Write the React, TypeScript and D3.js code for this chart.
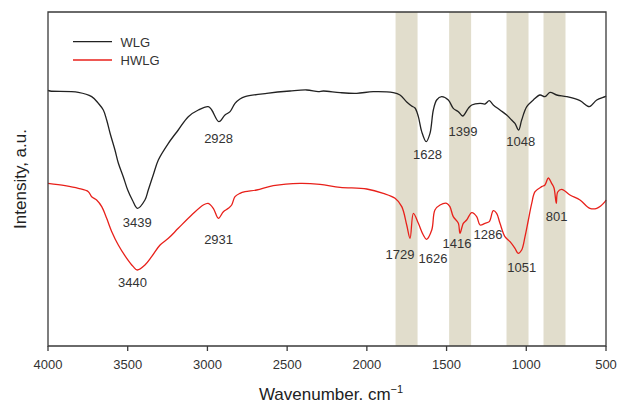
import React from 'react';
import * as d3 from 'd3';

// WLG spectrum: [wavenumber, intensity a.u.]
const wlg: [number, number][] = [
  [4000, 76.7], [3987, 76.5], [3810, 76.1], [3726, 74.8], [3684, 72.8], [3653, 70.8],
  [3632, 67.8], [3611, 63.9], [3580, 58.8], [3559, 54.9], [3528, 50.8], [3500, 46.8],
  [3471, 43.8], [3439, 41.3], [3392, 43.8], [3371, 46.8], [3340, 51.3], [3308, 55.8],
  [3245, 60.8], [3183, 64.8], [3120, 68.8], [3057, 70.8], [2995, 71.8], [2973, 70.8],
  [2928, 67.3], [2890, 69.3], [2858, 70.3], [2827, 72.8], [2796, 74.1], [2764, 74.8],
  [2628, 75.8], [2482, 76.5], [2377, 76.8], [2305, 76.3], [2273, 76.5], [2168, 76.0],
  [2064, 75.8], [1960, 76.3], [1834, 76.0], [1792, 75.3], [1750, 73.2], [1719, 72.0],
  [1698, 71.4], [1677, 68.8], [1656, 64.3], [1628, 61.3], [1604, 63.8], [1583, 70.8],
  [1562, 73.8], [1531, 74.8], [1489, 73.8], [1458, 71.3], [1426, 70.3], [1399, 69.0],
  [1364, 71.3], [1342, 72.3], [1290, 72.8], [1259, 72.6], [1232, 73.6], [1207, 72.3],
  [1165, 70.8], [1123, 69.3], [1092, 67.8], [1071, 66.8], [1048, 64.8], [1029, 67.8],
  [997, 71.8], [956, 73.8], [914, 75.3], [883, 74.8], [851, 76.1], [809, 75.3],
  [747, 74.8], [663, 73.6], [605, 71.8], [558, 73.8], [506, 74.8], [500, 75.0],
];

// HWLG spectrum
const hwlg: [number, number][] = [
  [4000, 48.8], [3893, 48.1], [3810, 47.3], [3747, 46.3], [3726, 44.8], [3695, 43.8],
  [3663, 41.8], [3632, 38.3], [3600, 34.3], [3559, 30.3], [3506, 26.3], [3465, 23.8],
  [3440, 22.8], [3392, 24.3], [3350, 26.8], [3297, 30.3], [3245, 32.3], [3183, 35.3],
  [3099, 39.3], [3026, 42.3], [2995, 42.8], [2963, 41.3], [2931, 38.3], [2900, 40.3],
  [2869, 41.3], [2848, 42.3], [2827, 44.8], [2796, 45.8], [2764, 46.3], [2691, 46.8],
  [2587, 48.1], [2419, 48.8], [2294, 48.5], [2168, 47.6], [2001, 47.1], [1897, 45.8],
  [1823, 44.3], [1781, 41.8], [1750, 36.3], [1729, 32.3], [1708, 39.8], [1677, 36.8],
  [1646, 33.3], [1626, 32.0], [1593, 34.8], [1573, 40.8], [1541, 42.3], [1499, 42.8],
  [1479, 41.8], [1458, 38.8], [1426, 36.8], [1416, 33.8], [1395, 36.8], [1374, 37.8],
  [1342, 40.0], [1311, 38.8], [1290, 36.3], [1259, 36.8], [1232, 37.3], [1207, 40.6],
  [1186, 39.8], [1165, 36.8], [1134, 32.8], [1102, 31.3], [1071, 29.3], [1051, 27.8],
  [1029, 28.8], [1008, 32.8], [987, 37.8], [966, 42.8], [945, 46.3], [903, 47.8],
  [883, 48.3], [862, 50.4], [841, 48.8], [826, 47.4], [812, 42.8], [803, 46.2],
  [778, 47.0], [726, 45.3], [663, 43.8], [601, 41.3], [558, 41.3], [506, 43.3], [500, 43.8],
];

// highlighted regions [from, to] in cm-1
const bands: [number, number][] = [[1820, 1682], [1484, 1346], [1124, 986], [892, 754]];

// peak labels: [text, wavenumber position, intensity position of baseline]
const wlgPeaks: [string, number, number][] = [
  ['3439', 3440, 35.6], ['2928', 2930, 60.8], ['1628', 1620, 56.1], ['1399', 1397, 63.1], ['1048', 1035, 60.1],
];
const hwlgPeaks: [string, number, number][] = [
  ['3440', 3470, 17.8], ['2931', 2930, 30.6], ['1729', 1792, 26.0], ['1626', 1585, 24.9],
  ['1416', 1435, 29.3], ['1286', 1240, 32.0], ['1051', 1029, 22.2], ['801', 810, 37.6],
];

const xTicks = [4000, 3500, 3000, 2500, 2000, 1500, 1000, 500];

const W = 619;
const H = 406;
const margin = { top: 12, right: 13, bottom: 60, left: 48 };
const font = '"Liberation Sans", Arial, sans-serif';
const axisColor = '#3a3a3a';
const textColor = '#333';

export default function App() {
  const x = d3.scaleLinear().domain([4000, 500]).range([margin.left, W - margin.right]);
  const y = d3.scaleLinear().domain([0, 100.2]).range([H - margin.bottom, margin.top]);
  const line = d3.line<[number, number]>()
    .x(d => x(d[0]))
    .y(d => y(d[1]))
    .curve(d3.curveCatmullRom.alpha(0.5));

  const x0 = margin.left;
  const x1 = W - margin.right;
  const y0 = H - margin.bottom;
  const y1 = margin.top;

  return (
    <svg width={W} height={H} style={{ position: 'absolute', left: 0, top: 0 }} fontFamily={font}>
      <rect x={0} y={0} width={W} height={H} fill="#fff" />
      {bands.map((b, i) => (
        <rect key={i} x={x(b[0])} y={y1} width={x(b[1]) - x(b[0])} height={y0 - y1} fill="#e1ddcc" />
      ))}
      <path d={line(wlg) || ''} fill="none" stroke="#222" strokeWidth={1.3} />
      <path d={line(hwlg) || ''} fill="none" stroke="#e8201a" strokeWidth={1.3} />

      {wlgPeaks.map((p, i) => (
        <text key={'w' + i} x={x(p[1])} y={y(p[2])} textAnchor="middle" fontSize={13} fill={textColor}>{p[0]}</text>
      ))}
      {hwlgPeaks.map((p, i) => (
        <text key={'h' + i} x={x(p[1])} y={y(p[2])} textAnchor="middle" fontSize={13} fill={textColor}>{p[0]}</text>
      ))}

      {/* frame */}
      <path d={`M${x0},${y0}V${y1}H${x1}V${y0}Z`} fill="none" stroke={axisColor} strokeWidth={1.3} />

      {xTicks.map(t => (
        <g key={t} transform={`translate(${x(t)},${y0})`}>
          <line y2={5} stroke={axisColor} strokeWidth={1.3} />
          <text y={23} textAnchor="middle" fontSize={13} fill={textColor}>{t}</text>
        </g>
      ))}

      <text x={(x0 + x1) / 2 + 4} y={400} textAnchor="middle" fontSize={17} fill="#222">
        Wavenumber. cm<tspan dy={-7} fontSize={11}>−1</tspan>
      </text>
      <text transform={`translate(26,${(y0 + y1) / 2}) rotate(-90)`} textAnchor="middle" fontSize={17} fill="#222">
        Intensity, a.u.
      </text>

      {/* legend */}
      <line x1={73} x2={112} y1={41.7} y2={41.7} stroke="#222" strokeWidth={1.3} />
      <text x={120.5} y={46.5} fontSize={13} fill={textColor}>WLG</text>
      <line x1={73} x2={112} y1={60} y2={60} stroke="#e8201a" strokeWidth={1.3} />
      <text x={120.5} y={64.8} fontSize={13} fill={textColor}>HWLG</text>
    </svg>
  );
}
